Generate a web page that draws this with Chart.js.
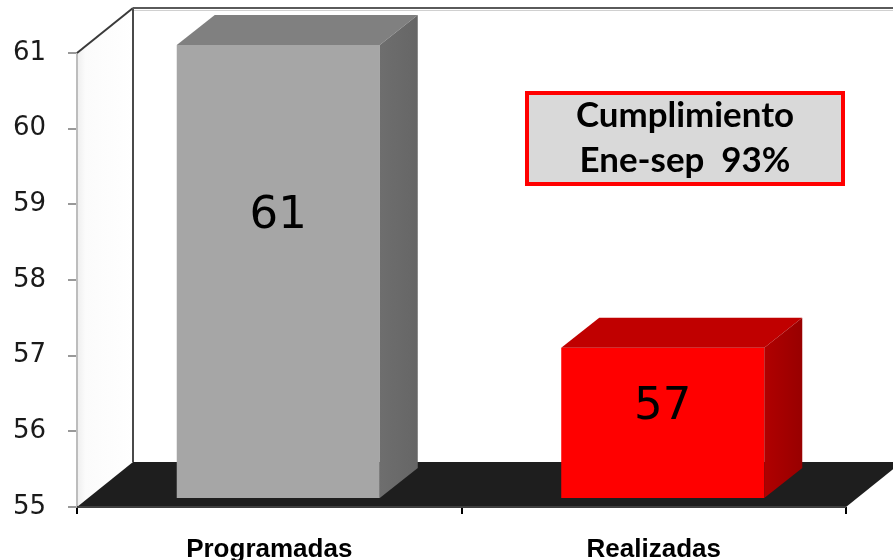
<!DOCTYPE html>
<html>
<head>
<meta charset="utf-8">
<script src="https://cdn.jsdelivr.net/npm/chart.js@4/dist/chart.umd.min.js"></script>
<style>
  html, body { margin: 0; padding: 0; background: #ffffff; }
  #wrap { width: 893px; height: 560px; position: relative; }
</style>
</head>
<body>
<div id="wrap"><canvas id="c" width="893" height="560"></canvas></div>
<script>
// Data
const categories = ['Programadas', 'Realizadas'];
const values = [61, 57];
const yTicks = [55, 56, 57, 58, 59, 60, 61];
const noteLines = ['Cumplimiento', 'Ene-sep  93%'];

// Colours for each bar: front, top, side (front and back of the side face)
const frontColors = ['#A6A6A6', '#FF0000'];
const topColors = ['#808080', '#C00000'];
const sideColors = [['#6E6E6E', '#666666'], ['#B00000', '#980000']];

// 3D geometry
const WALL_DX = 56, WALL_DY = -45;   // depth of walls / floor
const BAR_SHIFT_X = 9, BAR_SHIFT_Y = -8; // bar front plane inside the box
const BAR_DX = 38, BAR_DY = -30;     // bar depth

const box3d = {
  id: 'box3d',
  beforeDatasetsDraw(chart) {
    const { ctx, chartArea: a } = chart;
    ctx.save();
    // left wall
    ctx.beginPath();
    ctx.moveTo(a.left, a.top);
    ctx.lineTo(a.left + WALL_DX, a.top + WALL_DY);
    ctx.lineTo(a.left + WALL_DX, a.bottom + WALL_DY);
    ctx.lineTo(a.left, a.bottom);
    ctx.closePath();
    const g = ctx.createLinearGradient(a.left, 0, a.left + WALL_DX, 0);
    g.addColorStop(0, '#eeeeee');
    g.addColorStop(0.15, '#fbfbfb');
    g.addColorStop(1, '#ffffff');
    ctx.fillStyle = g;
    ctx.fill();
    // floor
    ctx.beginPath();
    ctx.moveTo(a.left, a.bottom);
    ctx.lineTo(a.left + WALL_DX, a.bottom + WALL_DY);
    ctx.lineTo(a.right + WALL_DX, a.bottom + WALL_DY);
    ctx.lineTo(a.right, a.bottom);
    ctx.closePath();
    ctx.fillStyle = '#1e1e1e';
    ctx.fill();
    // edges
    ctx.lineWidth = 2;
    ctx.strokeStyle = '#bdbdbd';
    ctx.beginPath();
    ctx.moveTo(a.left, a.top);
    ctx.lineTo(a.left, a.bottom);
    ctx.stroke();
    ctx.strokeStyle = '#3a3a3a';
    ctx.beginPath();
    ctx.moveTo(a.left, a.top);
    ctx.lineTo(a.left + WALL_DX, a.top + WALL_DY);
    ctx.stroke();
    ctx.strokeStyle = '#4a4a4a';
    ctx.beginPath();
    ctx.moveTo(a.left + WALL_DX, a.top + WALL_DY);
    ctx.lineTo(a.left + WALL_DX, a.bottom + WALL_DY);
    ctx.stroke();
    ctx.strokeStyle = '#5a5a5a';
    ctx.beginPath();
    ctx.moveTo(a.left + WALL_DX, a.top + WALL_DY);
    ctx.lineTo(chart.width + 10, a.top + WALL_DY);
    ctx.stroke();
    ctx.strokeStyle = '#d0d0d0';
    ctx.lineWidth = 1;
    ctx.beginPath();
    ctx.moveTo(a.left + WALL_DX + 1, a.top + WALL_DY + 2.5);
    ctx.lineTo(chart.width + 10, a.top + WALL_DY + 2.5);
    ctx.stroke();
    // front floor edge
    ctx.lineWidth = 2;
    ctx.strokeStyle = '#404040';
    ctx.beginPath();
    ctx.moveTo(a.left, a.bottom);
    ctx.lineTo(a.right, a.bottom);
    ctx.stroke();
    ctx.restore();
  },
  beforeDatasetDraw(chart) {
    chart.ctx.save();
    chart.ctx.translate(BAR_SHIFT_X, BAR_SHIFT_Y);
  },
  afterDatasetDraw(chart) {
    chart.ctx.restore();
  },
  afterDatasetsDraw(chart) {
    const { ctx } = chart;
    const meta = chart.getDatasetMeta(0);
    ctx.save();
    meta.data.forEach((bar, i) => {
      const p = bar.getProps(['x', 'y', 'base', 'width'], true);
      const l = p.x - p.width / 2 + BAR_SHIFT_X;
      const r = p.x + p.width / 2 + BAR_SHIFT_X;
      const t = p.y + BAR_SHIFT_Y;
      const b = p.base + BAR_SHIFT_Y;
      // top face
      ctx.beginPath();
      ctx.moveTo(l, t);
      ctx.lineTo(l + BAR_DX, t + BAR_DY);
      ctx.lineTo(r + BAR_DX, t + BAR_DY);
      ctx.lineTo(r, t);
      ctx.closePath();
      ctx.fillStyle = topColors[i];
      ctx.fill();
      // side face
      ctx.beginPath();
      ctx.moveTo(r, t);
      ctx.lineTo(r + BAR_DX, t + BAR_DY);
      ctx.lineTo(r + BAR_DX, b + BAR_DY);
      ctx.lineTo(r, b);
      ctx.closePath();
      const sg = ctx.createLinearGradient(r, 0, r + BAR_DX, 0);
      sg.addColorStop(0, sideColors[i][0]);
      sg.addColorStop(1, sideColors[i][1]);
      ctx.fillStyle = sg;
      ctx.fill();
      // value label
      ctx.fillStyle = '#000000';
      ctx.font = '45px "DejaVu Sans"';
      ctx.textAlign = 'center';
      ctx.textBaseline = 'middle';
      ctx.fillText(String(values[i]), (l + r) / 2, b - 0.63 * (b - t) + 4);
    });
    ctx.restore();
  },
  afterDraw(chart) {
    // note box
    const { ctx } = chart;
    const bx = 527, by = 93, bw = 316, bh = 91;
    ctx.save();
    ctx.fillStyle = '#D9D9D9';
    ctx.fillRect(bx, by, bw, bh);
    ctx.lineWidth = 4;
    ctx.strokeStyle = '#FF0000';
    ctx.strokeRect(bx, by, bw, bh);
    ctx.fillStyle = '#000000';
    ctx.textAlign = 'center';
    ctx.textBaseline = 'alphabetic';
    ctx.font = 'bold 100px Lato';
    const size = 100 * 218 / ctx.measureText(noteLines[0]).width;
    ctx.font = 'bold ' + size.toFixed(1) + 'px Lato';
    ctx.fillText(noteLines[0], bx + bw / 2, 127);
    ctx.fillText(noteLines[1], bx + bw / 2, 172);
    ctx.restore();
  }
};

new Chart(document.getElementById('c'), {
  type: 'bar',
  data: {
    labels: categories,
    datasets: [{
      data: values,
      base: yTicks[0],
      backgroundColor: frontColors,
      borderWidth: 0,
      categoryPercentage: 1,
      barPercentage: 0.528,
      clip: false
    }]
  },
  options: {
    responsive: false,
    animation: false,
    events: [],
    layout: { padding: { top: 53, right: 47, bottom: 0, left: 0 } },
    plugins: { legend: { display: false }, tooltip: { enabled: false } },
    scales: {
      x: {
        offset: true,
        grid: { offset: true, drawOnChartArea: false, drawTicks: true, tickLength: 7, color: '#000000', lineWidth: 2 },
        border: { display: false },
        ticks: { padding: 20, color: '#000000', font: { family: '"Liberation Sans", Arial', size: 26, weight: 'bold' } },
        afterFit(scale) { scale.height = 53; }
      },
      y: {
        min: 55,
        max: 61,
        afterBuildTicks(scale) { scale.ticks = yTicks.map(v => ({ value: v })); },
        grid: { drawOnChartArea: false, drawTicks: true, tickLength: 9, color: '#999999', lineWidth: 2 },
        border: { display: false },
        ticks: { padding: 22, color: '#1a1a1a', font: { family: '"DejaVu Sans"', size: 26 } },
        afterFit(scale) { scale.width = 77; }
      }
    }
  },
  plugins: [box3d]
});
</script>
</body>
</html>
